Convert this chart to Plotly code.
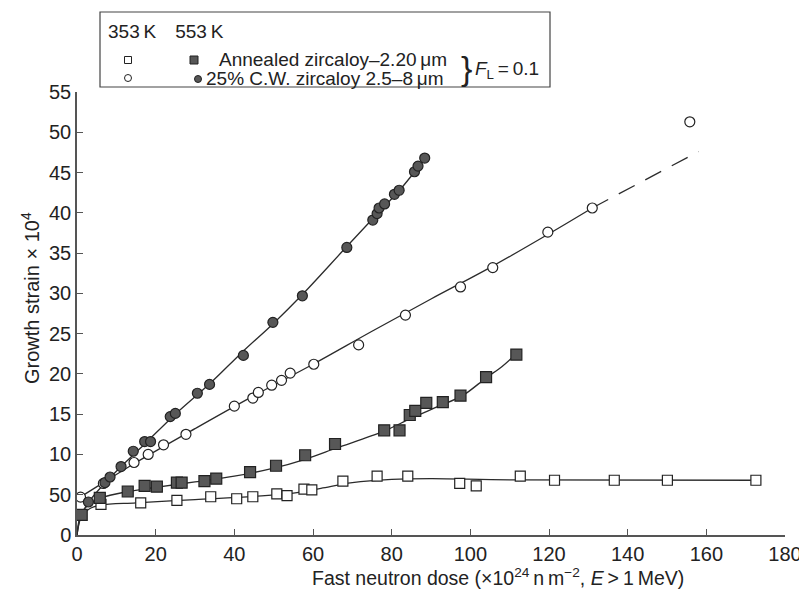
import plotly.graph_objects as go

# ---------------- data ----------------
# 353 K, annealed zircaloy (open squares)
ann353_x = [6.1, 16.2, 25.4, 34.0, 40.6, 44.7, 50.8, 53.4, 57.7, 59.7, 67.6, 76.3, 84.1, 97.3, 101.5, 112.7, 121.4, 136.6, 150.1, 172.6]
ann353_y = [3.8, 4.0, 4.3, 4.75, 4.5, 4.75, 5.1, 4.9, 5.7, 5.6, 6.7, 7.3, 7.3, 6.4, 6.1, 7.3, 6.8, 6.8, 6.8, 6.8]
# 553 K, annealed zircaloy (filled squares)
ann553_x = [1.2, 5.8, 12.9, 17.2, 20.3, 25.4, 26.6, 32.4, 35.4, 44.0, 50.6, 58.0, 65.6, 78.1, 82.0, 84.6, 86.0, 88.8, 93.0, 97.5, 104.0, 111.7]
ann553_y = [2.5, 4.6, 5.4, 6.1, 6.0, 6.5, 6.5, 6.7, 7.0, 7.8, 8.6, 9.9, 11.3, 13.0, 13.0, 14.9, 15.4, 16.4, 16.5, 17.3, 19.6, 22.4]
# 353 K, 25% C.W. zircaloy (open circles)
cw353_x = [0.9, 6.7, 14.5, 18.1, 22.0, 27.7, 40.0, 44.7, 46.1, 49.5, 52.0, 54.2, 60.2, 71.6, 83.5, 97.5, 105.7, 119.7, 131.0, 155.8]
cw353_y = [4.7, 6.4, 9.0, 10.0, 11.2, 12.5, 16.0, 17.0, 17.7, 18.6, 19.2, 20.1, 21.2, 23.6, 27.3, 30.8, 33.2, 37.6, 40.6, 51.3]
# 553 K, 25% C.W. zircaloy (filled circles)
cw553_x = [2.9, 7.1, 8.4, 11.2, 14.3, 17.2, 18.7, 23.7, 25.0, 30.6, 33.7, 42.3, 49.8, 57.3, 68.6, 75.2, 76.3, 76.8, 78.2, 80.7, 81.9, 85.8, 86.7, 88.4]
cw553_y = [4.1, 6.5, 7.2, 8.5, 10.4, 11.6, 11.6, 14.7, 15.1, 17.6, 18.7, 22.3, 26.4, 29.7, 35.7, 39.1, 39.9, 40.6, 41.1, 42.3, 42.8, 45.1, 45.8, 46.8]

# fitted curves
fit_ann353_x = [0, 1, 3, 6, 15, 30, 45, 55, 62, 70, 80, 90, 110, 172.6]
fit_ann353_y = [0, 2.2, 3.2, 3.7, 4.0, 4.4, 4.8, 5.2, 5.8, 6.5, 6.9, 7.0, 6.85, 6.8]
fit_ann553_x = [0, 1, 3, 6, 13, 20, 30, 40, 50, 58, 66, 78, 85, 92, 98, 104, 108, 111]
fit_ann553_y = [0, 2.6, 3.8, 4.6, 5.4, 5.9, 6.6, 7.3, 8.3, 9.4, 10.8, 12.9, 14.5, 16.0, 17.3, 19.5, 20.9, 22.2]
fit_cw353_x = [0.8, 7, 15, 30, 45, 60, 75, 90, 105, 120, 131]
fit_cw353_y = [4.7, 6.6, 9.0, 13.2, 17.3, 21.2, 25.3, 29.3, 33.2, 37.4, 40.6]
ext_cw353_x = [131, 158]
ext_cw353_y = [40.6, 47.6]
fit_cw553_x = [0, 1, 3, 7, 11, 17, 25, 34, 42, 50, 57, 68, 76, 82, 86.5]
fit_cw553_y = [0, 2.3, 4.1, 6.4, 8.4, 11.2, 15.0, 18.9, 22.7, 26.3, 29.7, 35.5, 39.7, 42.8, 45.5]

x_ticks = [0, 20, 40, 60, 80, 100, 120, 140, 160, 180]
y_ticks = [0, 5, 10, 15, 20, 25, 30, 35, 40, 45, 50, 55]
y_ticktext = ["0", "50", "10", "15", "20", "25", "30", "35", "40", "45", "50", "55"]

FONT = "Liberation Sans, Arial, sans-serif"
LINE = "#2b2b2b"
FILL = "#575757"

fig = go.Figure()

def add_line(x, y):
    fig.add_trace(go.Scatter(x=x, y=y, mode="lines", line=dict(color=LINE, width=1.3, shape="spline", smoothing=1.0),
                             hoverinfo="skip", showlegend=False))

add_line(fit_ann353_x, fit_ann353_y)
add_line(fit_ann553_x, fit_ann553_y)
add_line(fit_cw353_x, fit_cw353_y)
fig.add_trace(go.Scatter(x=ext_cw353_x, y=ext_cw353_y, mode="lines",
                         line=dict(color=LINE, width=1.3, dash="18px,12px"), hoverinfo="skip", showlegend=False))
add_line(fit_cw553_x, fit_cw553_y)

def add_pts(x, y, symbol, fill, size):
    fig.add_trace(go.Scatter(x=x, y=y, mode="markers", cliponaxis=False,
                             marker=dict(symbol=symbol, size=size, color=fill, line=dict(color="#222", width=1.2)),
                             showlegend=False))

add_pts(ann353_x, ann353_y, "square", "white", 10)
add_pts(ann553_x, ann553_y, "square", FILL, 11)
add_pts(cw353_x, cw353_y, "circle", "white", 10)
add_pts(cw553_x, cw553_y, "circle", FILL, 10)

# ---------------- layout geometry (page pixels; the page body adds an 8 px margin) ----------------
OFF = 8
W, H = 807 - OFF, 601 - OFF
X0, X1 = 77, 785      # page x of 0 and 180
Y0, Y1 = 535, 92      # page y of 0 and 55
def px(x):
    return (x - X0) / (X1 - X0)
def py(y):
    return (Y0 - y) / (Y0 - Y1)

shapes = [dict(type="rect", xref="paper", yref="paper", x0=px(100), x1=px(550), y0=py(12), y1=py(87),
               line=dict(color="#444", width=1.2), fillcolor="white", layer="above")]
def sq(cx, cy, s, fill):
    return dict(type="rect", xref="paper", yref="paper", x0=px(cx - s / 2), x1=px(cx + s / 2),
                y0=py(cy + s / 2), y1=py(cy - s / 2), line=dict(color="#222", width=1), fillcolor=fill, layer="above")
def circ(cx, cy, s, fill):
    return dict(type="circle", xref="paper", yref="paper", x0=px(cx - s / 2), x1=px(cx + s / 2),
                y0=py(cy + s / 2), y1=py(cy - s / 2), line=dict(color="#222", width=1), fillcolor=fill, layer="above")
shapes += [sq(128, 60, 7, "white"), sq(194, 60, 8, FILL), circ(128, 78, 7, "white"), circ(198, 79, 7, FILL)]

ann = []
def txt(x, y, s, size=19, anchor="left", angle=0):
    ann.append(dict(xref="paper", yref="paper", x=px(x), y=py(y), text=s, showarrow=False, textangle=angle,
                    xanchor=anchor, yanchor="middle", font=dict(family=FONT, size=size, color="#222")))
txt(106, 31, "353\u2009K\u2002\u2002553\u2009K")
txt(217, 59, "Annealed zircaloy–2.20\u2009μm")
txt(204, 78, "25% C.W. zircaloy 2.5–8\u2009μm")
txt(459, 68, "}", size=34)
txt(473, 70, "<i>F</i><sub>L</sub>\u2009=\u20090.1")

# axis titles (placed as in the reference)
txt(498, 577, "Fast neutron dose (×10<sup>24</sup>\u2009n\u2009m<sup>−2</sup>, <i>E</i>\u2009&gt;\u20091\u2009MeV)", size=19.5, anchor="center")
txt(30, 298, "Growth strain × 10<sup>4</sup>", size=20, anchor="center", angle=-90)

fig.update_layout(
    width=W, height=H,
    margin=dict(l=X0 - OFF, r=W - (X1 - OFF), t=Y1 - OFF, b=H - (Y0 - OFF)),
    paper_bgcolor="white", plot_bgcolor="white",
    font=dict(family=FONT, size=20, color="#222"),
    shapes=shapes, annotations=ann,
    xaxis=dict(range=[0, 180], tickvals=x_ticks, showgrid=False, zeroline=False, automargin=False,
               showline=True, linecolor="#555", linewidth=1.5, ticks="inside", ticklen=6, tickcolor="#555",
               tickfont=dict(size=20)),
    yaxis=dict(range=[0, 55], tickvals=y_ticks, ticktext=y_ticktext, showgrid=False, zeroline=False, automargin=False,
               showline=True, linecolor="#555", linewidth=1.5, ticks="inside", ticklen=6, tickcolor="#555",
               tickfont=dict(size=20)),
)

fig.write_html("out.html")
